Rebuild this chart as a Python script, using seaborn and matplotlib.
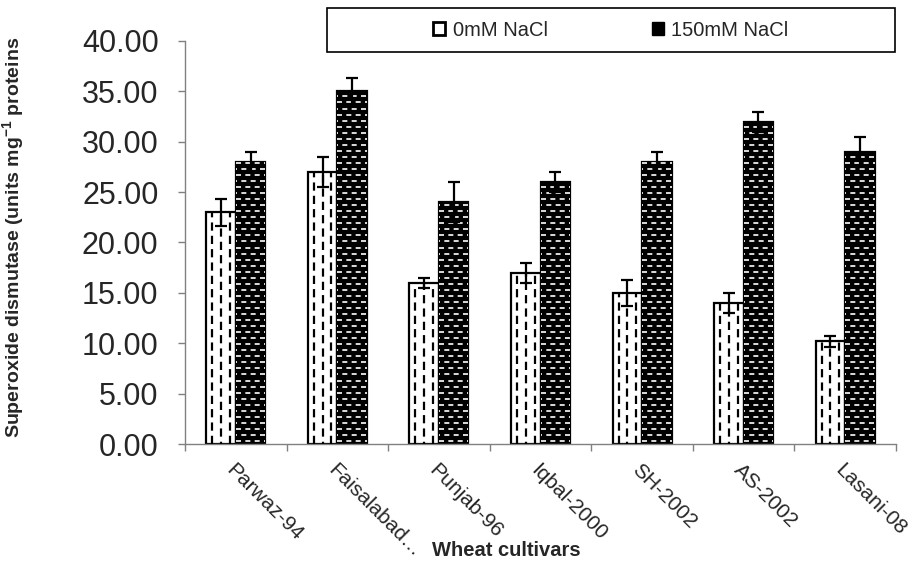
import pandas as pd
import numpy as np
import matplotlib.pyplot as plt
import seaborn as sns
from matplotlib.patches import Rectangle, Patch

cultivars = ["Parwaz-94", "Faisalabad\u2026", "Punjab-96", "Iqbal-2000", "SH-2002", "AS-2002", "Lasani-08"]
treatments = ["0mM NaCl", "150mM NaCl"]
sod_0mm = [23.0, 27.0, 16.0, 17.0, 15.0, 14.0, 10.2]
sod_150mm = [28.0, 35.0, 24.0, 26.0, 28.0, 32.0, 29.0]
err_0mm = [1.35, 1.5, 0.5, 1.0, 1.3, 1.0, 0.55]
err_150mm = [1.0, 1.35, 2.0, 1.0, 1.0, 1.0, 1.5]
yticks = [0, 5, 10, 15, 20, 25, 30, 35, 40]

sns.set_theme(style="ticks")
plt.rcParams["font.family"] = ["Liberation Sans", "DejaVu Sans"]
plt.rcParams["mathtext.fontset"] = "custom"
plt.rcParams["mathtext.rm"] = "Liberation Sans"
plt.rcParams["mathtext.bf"] = "Liberation Sans:bold"

df = pd.DataFrame({
    "cultivar": cultivars * 2,
    "treatment": [treatments[0]] * len(cultivars) + [treatments[1]] * len(cultivars),
    "sod": sod_0mm + sod_150mm,
})

fig = plt.figure(figsize=(9.16, 5.65), dpi=100)
ax = fig.add_axes([185 / 916, 121 / 565, 711 / 916, 403 / 565])

sns.barplot(data=df, x="cultivar", y="sod", hue="treatment", hue_order=treatments,
            palette=["white", "black"], edgecolor="black", linewidth=1.6,
            width=0.58, gap=0, errorbar=None, legend=False, ax=ax)

# dashed vertical pattern inside the white bars
for p in ax.containers[0]:
    x0, w, h = p.get_x(), p.get_width(), p.get_height()
    for frac, off in [(0.2, 0), (0.5, 4.3), (0.8, 0)]:
        ln = ax.vlines(x0 + frac * w, 0, h, colors="black", lw=1.6,
                       linestyles=[(off / 1.6, (3.7, 2.3))], zorder=3)
        ln.set_clip_path(p)

# white brick-like dashes inside the black bars
for p in ax.containers[1]:
    x0, w, h = p.get_x(), p.get_width(), p.get_height()
    rows = np.arange(0.3, h, 0.6)
    for k, off in [(0, 0.0), (1, 2.4)]:
        ln = ax.hlines(rows[k::2], x0, x0 + w, colors="white", lw=1.2,
                       linestyles=[(off, (3.0, 2.6))], zorder=3)
        ln.set_clip_path(p)

for cont, err in [(ax.containers[0], err_0mm), (ax.containers[1], err_150mm)]:
    xs = [p.get_x() + p.get_width() / 2 for p in cont]
    hs = [p.get_height() for p in cont]
    ax.errorbar(xs, hs, yerr=err, fmt="none", ecolor="black", elinewidth=1.6,
                capsize=4.5, capthick=1.6, zorder=4)

ax.set_ylim(0, 40)
ax.set_xlim(-0.5, len(cultivars) - 0.5)
ax.set_yticks(yticks)
ax.set_yticklabels([f"{v:.2f}" for v in yticks], fontsize=22)
ax.set_xticks(range(len(cultivars)))
ax.set_xticklabels(cultivars, rotation=-45, ha="left", va="top",
                   rotation_mode="anchor", fontsize=15)
ax.set_xticks(np.arange(-0.5, len(cultivars), 1.0), minor=True)
ax.tick_params(axis="x", which="major", length=0, pad=12)
ax.tick_params(axis="x", which="minor", length=5, width=1, color="#808080", direction="out")
ax.tick_params(axis="y", length=5, width=1, color="#808080", direction="out", pad=14)

sns.despine(ax=ax)
for s in ["left", "bottom"]:
    ax.spines[s].set_color("#808080")
    ax.spines[s].set_linewidth(1.0)

ax.set_xlabel("Wheat cultivars", fontsize=14.5, fontweight="bold")
ax.xaxis.set_label_coords((506 - 185) / 711, -0.24)
ax.set_ylabel(r"Superoxide dismutase (units mg$^{\mathbf{-1}}$ proteins", fontsize=14,
              fontweight="bold")
ax.yaxis.set_label_coords((27 - 185) / 711, 0.512)

# legend box
fig.patches.append(Rectangle((327 / 916, 1 - 52 / 565), 568 / 916, 44 / 565,
                             transform=fig.transFigure, facecolor="white",
                             edgecolor="black", lw=1.2, zorder=5))
handles = [Patch(facecolor="white", edgecolor="black", lw=2),
           Patch(facecolor="black", edgecolor="black", lw=1)]
leg = fig.legend(handles, treatments, loc="center", bbox_to_anchor=(611 / 916, 1 - 30 / 565),
                 ncol=2, frameon=False, fontsize=14.5, handlelength=0.6, handleheight=0.6,
                 handletextpad=0.35, columnspacing=5.2)
leg.set_zorder(6)

fig.savefig("out.png", dpi=100)
